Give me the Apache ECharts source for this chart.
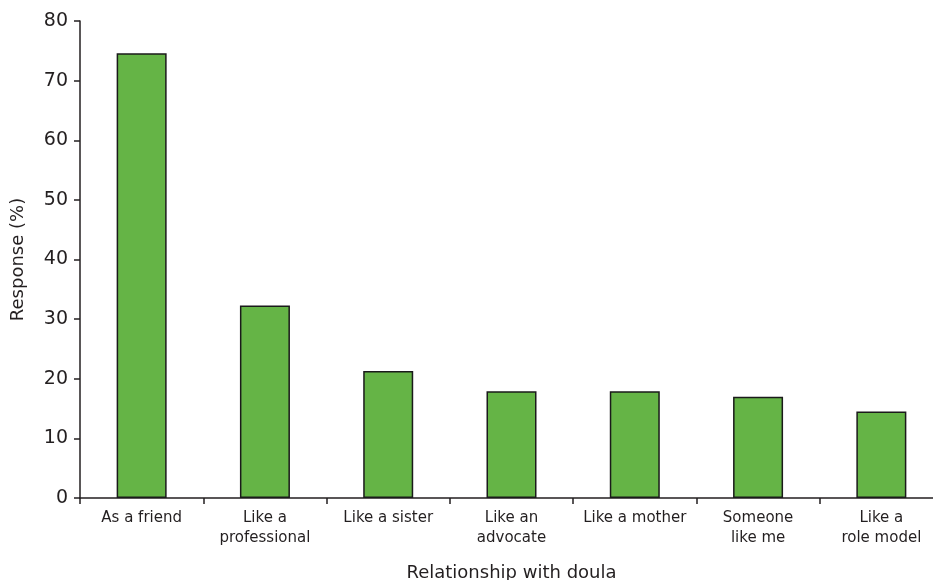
<!DOCTYPE html>
<html>
<head>
<meta charset="utf-8">
<script src="https://cdn.jsdelivr.net/npm/echarts@6/dist/echarts.min.js"></script>
<style>html,body{margin:0;padding:0;background:#fff}#c{width:933px;height:580px}</style>
</head>
<body>
<div id="c"></div>
<script>
const categories = ["As a friend", "Like a\nprofessional", "Like a sister", "Like an\nadvocate", "Like a mother", "Someone\nlike me", "Like a\nrole model"];
const values = [74.6, 32.3, 21.3, 17.9, 17.9, 17.0, 14.5];
const yTicks = { min: 0, max: 80, interval: 10 };
const font = "DejaVu Sans";
const chart = echarts.init(document.getElementById('c'));
chart.setOption({
  animation: false,
  grid: { left: 80, top: 21, width: 863, bottom: 82, containLabel: false, outerBoundsMode: 'none' },
  xAxis: {
    type: 'category', data: categories,
    name: 'Relationship with doula', nameLocation: 'middle', nameGap: 66,
    nameTextStyle: { fontFamily: font, fontSize: 18, color: '#231f20' },
    axisLine: { lineStyle: { color: '#231f20', width: 1.5 } },
    axisTick: { show: true, length: 6, lineStyle: { color: '#231f20', width: 1.5 } },
    axisLabel: { fontFamily: font, fontSize: 15, color: '#231f20', margin: 10, lineHeight: 20, interval: 0 }
  },
  yAxis: {
    type: 'value', min: yTicks.min, max: yTicks.max, interval: yTicks.interval,
    name: 'Response (%)', nameLocation: 'middle', nameGap: 53, nameRotate: 90,
    nameTextStyle: { fontFamily: font, fontSize: 18, color: '#231f20' },
    splitLine: { show: false },
    axisLine: { show: true, lineStyle: { color: '#231f20', width: 1.5 } },
    axisTick: { show: true, length: 6, lineStyle: { color: '#231f20', width: 1.5 } },
    axisLabel: { fontFamily: font, fontSize: 19, color: '#231f20', margin: 12 }
  },
  series: [{
    type: 'bar', data: values, barWidth: 50,
    itemStyle: { color: '#65b446', borderColor: '#1a1a1a', borderWidth: 1.5 }
  }]
});
</script>
</body>
</html>
